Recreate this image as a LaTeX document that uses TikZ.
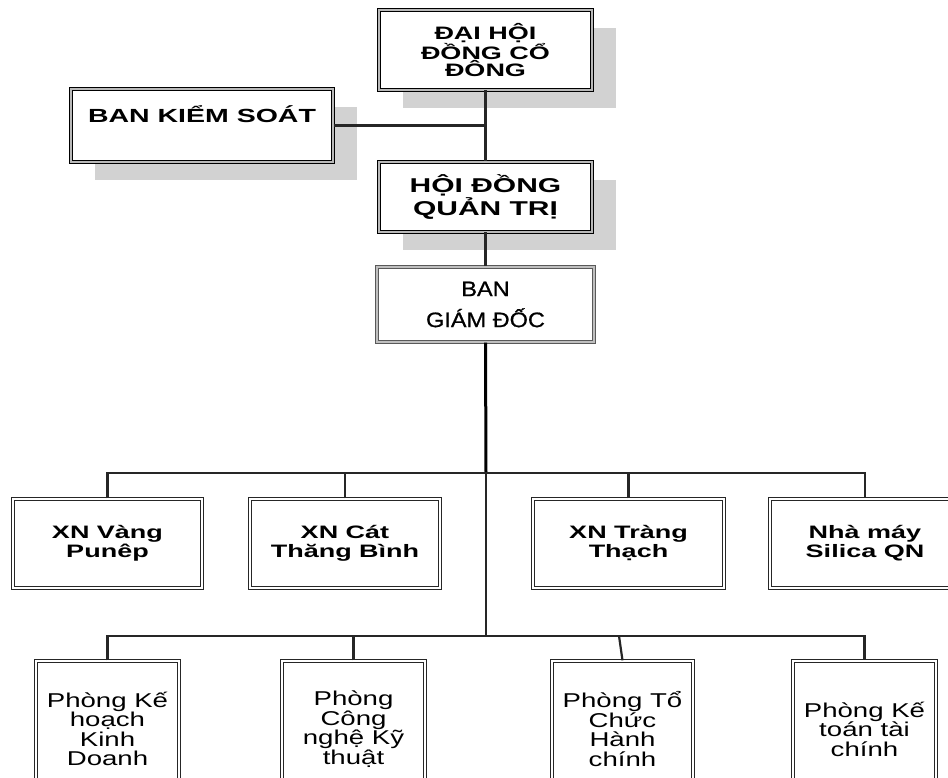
\documentclass[tikz,border=0pt]{standalone}
\usepackage{fontspec}
\setmainfont{Liberation Sans}
\newfontfamily\bwideA[FakeStretch=1.5]{Liberation Sans}
\newfontfamily\rwideA[FakeStretch=1.38]{Liberation Sans}
\newfontfamily\nwideA[FakeStretch=1.12,FakeBold=0.8]{Liberation Sans}
\usetikzlibrary{shadows}
\newcommand\myTopFont{\bwideA\bfseries\fontsize{18}{16.5}\selectfont}
\newcommand\myHdFont{\bwideA\bfseries\fontsize{20}{20}\selectfont}
\newcommand\myBksFont{\bwideA\bfseries\fontsize{19}{19}\selectfont}
\newcommand\myGdFont{\nwideA\fontsize{21}{31}\selectfont}
\newcommand\myRowFont{\bwideA\bfseries\fontsize{18}{19}\selectfont}
\newcommand\myDeptFont{\rwideA\fontsize{20}{19.5}\selectfont}
\begin{document}
\begin{tikzpicture}[x=1pt,y=-1pt,
  topbox/.style={draw=black, line width=1pt, double=gray!55, double distance=2.4pt,
    fill=white, inner sep=0pt, align=center,
    drop shadow={shadow xshift=24pt, shadow yshift=-18pt, fill=gray!35, opacity=1}},
  gdbox/.style={draw=gray!70!black, line width=1.1pt, double=gray!50, double distance=2.4pt,
    fill=white, inner sep=0pt, align=center, font=\myGdFont},
  rowbox/.style={draw=black!85, line width=1.3pt, double=white, double distance=1.8pt,
    fill=white, inner sep=0pt, align=center, font=\myRowFont,
    minimum width=190pt, minimum height=89pt},
  deptbox/.style={draw=black!85, line width=1.3pt, double=white, double distance=1.8pt,
    fill=white, inner sep=0pt, align=center, font=\myDeptFont,
    minimum width=143pt, minimum height=136pt},
  conn/.style={draw=black!85, line width=2.2pt},
  mainline/.style={draw=black, line width=3pt}]
\useasboundingbox (0,0) rectangle (948,778);

% top boxes
\node[topbox, minimum width=213pt, minimum height=80pt, font=\myTopFont] (dhd) at (485.5,50) {ĐẠI HỘI\\ĐỒNG CỔ\\ĐÔNG};
\node[topbox, minimum width=262pt, minimum height=73pt] (bks) at (202,125.5) {};
\node[font=\myBksFont, anchor=base, inner sep=0pt] (bkst) at (202,123) {BAN KIỂM SOÁT};
\node[topbox, minimum width=213pt, minimum height=70pt, font=\myHdFont] (hdqt) at (485.5,197) {HỘI ĐỒNG\\QUẢN TRỊ};
\node[gdbox, minimum width=217pt, minimum height=75pt] (bgd) at (485.5,304.5) {BAN\\GIÁM ĐỐC};

% row 1
\node[rowbox, minimum width=189pt] (xnv) at (107.5,543.5) {XN Vàng\\Punêp};
\node[rowbox] (xnc) at (345,543.5) {XN Cát\\Thăng Bình};
\node[rowbox, minimum width=191pt] (xnt) at (628.5,543.5) {XN Tràng\\Thạch};
\node[rowbox] (nm) at (865,543.5) {Nhà máy\\Silica QN};

% row 2
\node[deptbox] (pk) at (107.5,729) {Phòng Kế\\hoạch\\Kinh\\Doanh};
\node[deptbox] (pcn) at (353.5,729) {Phòng\\Công\\nghệ  Kỹ\\thuật};
\node[deptbox, minimum width=141pt] (ptc) at (622.5,729) {Phòng Tổ\\Chức\\Hành\\chính};
\node[deptbox] (pkt) at (864.5,729) {Phòng Kế\\toán tài\\chính};

% bus coordinates
\coordinate (b1) at (486,473);
\coordinate (b2) at (486,636);
\coordinate (tc2) at (619,636);

% connectors top
\draw[conn] (dhd.south) -- (hdqt.north);
\draw[conn] (bks.east) -- (bks.east -| dhd.south);
\draw[conn] (hdqt.south) -- (bgd.north);
\draw[mainline] (bgd.south) -- (b1);
\draw[conn] (b1) -- (b2);

% bus 1
\draw[conn] (xnv.north) -- (xnv.north |- b1) -- (nm.north |- b1) -- (nm.north);
\draw[conn] (xnc.north) -- (xnc.north |- b1);
\draw[conn] (xnt.north) -- (xnt.north |- b1);

% bus 2
\draw[conn] (pk.north) -- (pk.north |- b2) -- (pkt.north |- b2) -- (pkt.north);
\draw[conn] (pcn.north) -- (pcn.north |- b2);
\draw[conn] (ptc.north) -- (tc2);
\end{tikzpicture}
\end{document}
